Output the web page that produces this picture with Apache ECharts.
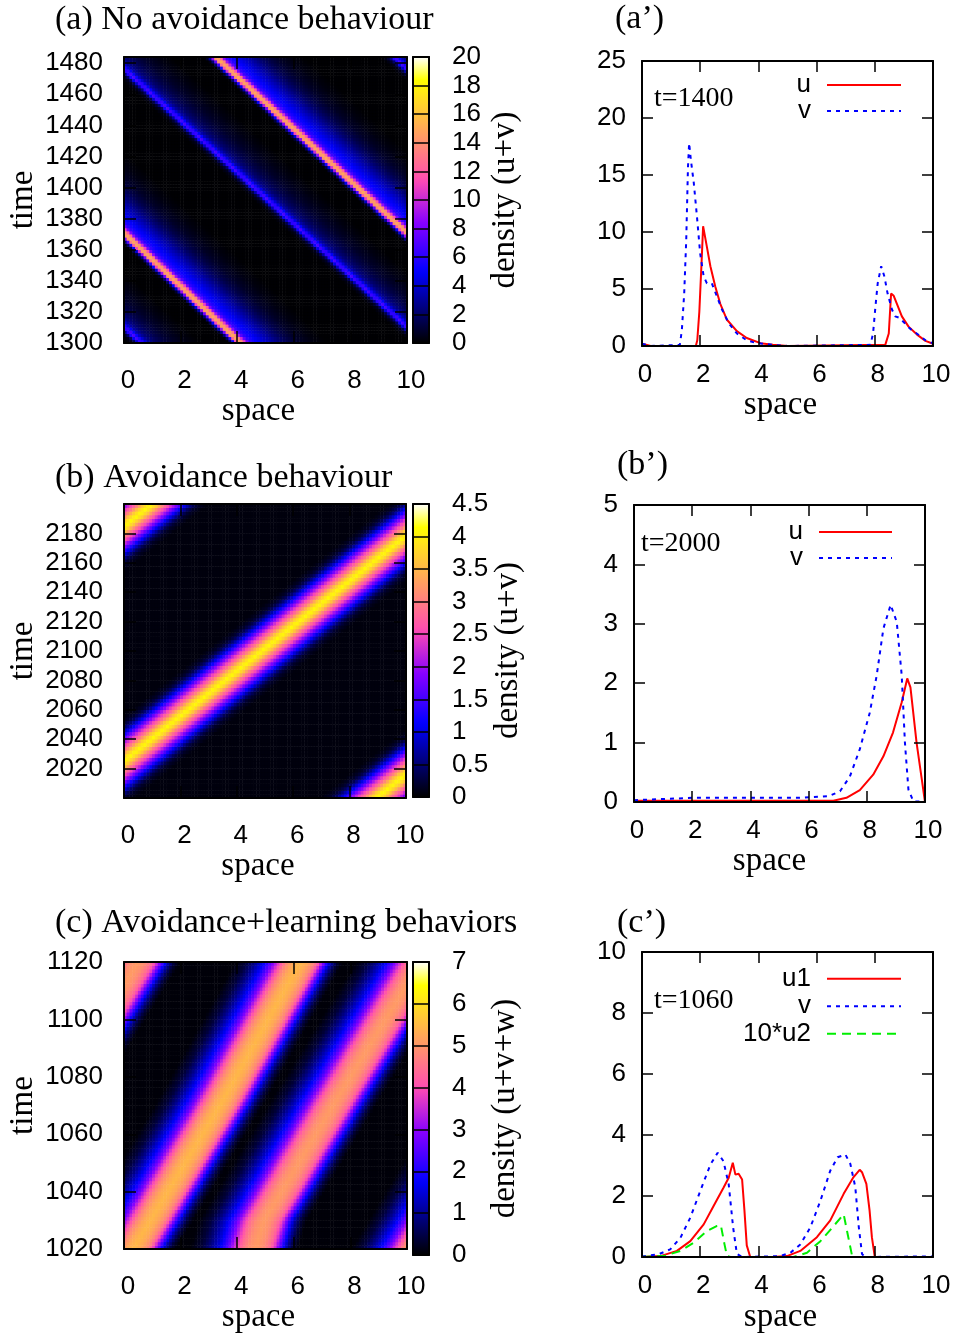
<!DOCTYPE html>
<html><head><meta charset="utf-8"><title>Traveling waves</title>
<script src="https://cdn.jsdelivr.net/npm/echarts@6.0.0/dist/echarts.min.js"></script>
<style>html,body{margin:0;padding:0;background:#fff;}#chart{width:958px;height:1335px;}</style>
</head><body><div id="chart"></div>
<script>
// ================= DATA =================
const SPACE_CELLS = 100;                 // heatmap cells along space 0..10
const spaceTicks = [0, 2, 4, 6, 8, 10];

// ---- (a) No avoidance: heatmap of u+v ----
const aTimeRange = [1300, 1484];
const aTimeTicks = [1300, 1320, 1340, 1360, 1380, 1400, 1420, 1440, 1460, 1480];
const aRowStep = 2;
const aBase = 0.05;
const aStrongTrack = [[1300, 4.08], [1370, 0.0], [1484, -6.8]];   // [time, space] of bright front
const aWeakTrack = [[1300, 10.58], [1484, -0.5]];
const aStrongOffsets = [-0.35, -0.22, -0.12, -0.03, 0.07, 0.17, 0.27, 0.4, 0.6, 0.9, 1.2, 1.5, 1.8, 2.2, 2.7, 3.2];
const aStrongValues  = [0, 2.5, 8, 14, 15, 13.5, 9, 6.3, 5.2, 4.2, 3.2, 2.2, 1.4, 0.7, 0.25, 0];
const aWeakOffsets = [-0.45, -0.25, -0.12, -0.03, 0.07, 0.17, 0.3, 0.5, 0.8, 1.2, 1.7, 2.2];
const aWeakValues  = [0, 0.5, 2.2, 5.5, 6.8, 5.2, 3.3, 2.2, 1.4, 0.75, 0.3, 0];
const aColorTicks = [0, 2, 4, 6, 8, 10, 12, 14, 16, 18, 20];

// ---- (a') t=1400 profiles ----
const apUx = [0, 0.3, 1.85, 1.9, 1.97, 2.05, 2.1, 2.23, 2.35, 2.52, 2.69, 2.92, 3.26, 3.6, 4.07, 4.5, 5.0, 8.36, 8.48, 8.56, 8.65, 8.76, 8.93, 9.16, 9.45, 9.74, 10];
const apUy = [0.2, 0, 0, 0.5, 3.0, 7.5, 10.5, 8.7, 7.0, 5.2, 3.7, 2.3, 1.3, 0.7, 0.25, 0.1, 0, 0.1, 1.1, 4.6, 4.4, 3.7, 2.6, 1.7, 1.0, 0.45, 0.2];
const apVx = [0, 0.3, 1.3, 1.37, 1.45, 1.52, 1.58, 1.62, 1.68, 1.78, 1.89, 2.0, 2.12, 2.23, 2.4, 2.58, 2.75, 2.98, 3.26, 3.6, 3.95, 4.5, 5.0, 7.85, 7.94, 8.02, 8.1, 8.22, 8.33, 8.44, 8.59, 8.7, 8.82, 8.99, 9.22, 9.51, 9.74, 10];
const apVy = [0.2, 0, 0.1, 1.4, 4.6, 9.3, 15.7, 17.8, 16.3, 14.3, 11.3, 8.1, 6.1, 5.5, 5.5, 4.3, 3.2, 2.0, 1.1, 0.5, 0.25, 0.1, 0, 0.1, 1.1, 3.4, 5.5, 7.0, 6.1, 4.6, 3.2, 2.6, 2.5, 2.1, 1.5, 0.96, 0.5, 0.23];
const apYTicks = [0, 5, 10, 15, 20, 25];

// ---- (b) Avoidance: heatmap of u+v ----
const bTimeRange = [2000, 2200];
const bTimeTicks = [2020, 2040, 2060, 2080, 2100, 2120, 2140, 2160, 2180];
const bRowStep = 2.5;
const bBase = 0.06;
const bTrackLower = [[2000, 8.95], [2060, 12.87]];
const bTrackMain  = [[2000, -1.64], [2200, 11.41]];
const bTrackUpper = [[2140, -2.92], [2200, 0.99]];
const bOffsets = [-2.0, -1.7, -1.5, -1.25, -1.0, -0.75, -0.5, -0.25, 0, 0.25, 0.5, 0.75, 1.0, 1.25, 1.5, 1.7, 2.0];
const bValues  = [0, 0.12, 0.35, 0.9, 1.6, 2.25, 2.85, 3.6, 4.05, 3.6, 2.85, 2.25, 1.6, 0.9, 0.35, 0.12, 0];
const bColorTicks = [0, 0.5, 1, 1.5, 2, 2.5, 3, 3.5, 4, 4.5];

// ---- (b') t=2000 profiles ----
const bpUx = [0, 6.0, 6.85, 7.3, 7.76, 8.22, 8.57, 8.9, 9.2, 9.39, 9.5, 9.71, 9.89, 10];
const bpUy = [0.02, 0.02, 0.02, 0.07, 0.2, 0.46, 0.77, 1.17, 1.68, 2.08, 1.93, 1.0, 0.38, 0];
const bpVx = [0, 1.0, 2.0, 5.7, 6.7, 7.08, 7.42, 7.76, 8.1, 8.34, 8.57, 8.82, 9.03, 9.2, 9.31, 9.43, 9.6, 10];
const bpVy = [0.03, 0.05, 0.07, 0.07, 0.1, 0.18, 0.43, 0.89, 1.5, 2.13, 2.92, 3.32, 3.03, 2.13, 1.0, 0.21, 0.01, 0.01];
const bpYTicks = [0, 1, 2, 3, 4, 5];

// ---- (c) Avoidance+learning: heatmap of u+v+w ----
const cTimeRange = [1020, 1120];
const cTimeTicks = [1020, 1040, 1060, 1080, 1100, 1120];
const cRowStep = 1.25;
const cBase = 0.06;
const cTrackA = [[1020, 0.33], [1071, 3.45], [1120, 6.24]];
const cTrackB = [[1020, 4.65], [1030, 4.95], [1037, 5.39], [1071, 7.45], [1098.6, 9.16], [1120, 10.5]];
const cAmpA = 1.0, cAmpB = 0.93;
const cOffsets = [-2.3, -1.9, -1.6, -1.3, -1.0, -0.75, -0.5, -0.25, 0, 0.25, 0.5, 0.65, 0.8, 0.95, 1.1, 1.3, 1.5];
const cValues  = [0, 0.35, 0.9, 1.6, 2.6, 3.7, 4.7, 5.2, 5.4, 5.2, 4.7, 4.0, 3.0, 2.0, 1.1, 0.35, 0];
const cColorTicks = [0, 1, 2, 3, 4, 5, 6, 7];

// ---- (c') t=1060 profiles ----
const cpU1x = [0, 0.63, 1.2, 1.66, 2.12, 2.46, 2.8, 2.98, 3.12, 3.21, 3.32, 3.44, 3.52, 3.6, 3.72, 4.52, 4.98, 5.44, 6.01, 6.47, 6.93, 7.27, 7.48, 7.56, 7.71, 7.82, 7.9, 8.0, 10];
const cpU1y = [0, 0.03, 0.2, 0.52, 1.07, 1.67, 2.27, 2.6, 3.09, 2.7, 2.73, 2.54, 1.53, 0.38, 0, 0, 0.03, 0.2, 0.65, 1.2, 2.07, 2.62, 2.86, 2.78, 2.4, 1.53, 0.65, 0, 0];
const cpVx = [0, 0.57, 0.97, 1.32, 1.66, 2.0, 2.35, 2.6, 2.8, 2.98, 3.13, 3.26, 3.44, 4.75, 5.1, 5.44, 5.78, 6.13, 6.47, 6.72, 6.99, 7.16, 7.33, 7.45, 7.56, 7.67, 10];
const cpVy = [0.02, 0.09, 0.25, 0.63, 1.29, 2.16, 3.03, 3.42, 3.14, 2.38, 0.98, 0.1, 0, 0.03, 0.14, 0.41, 0.96, 1.84, 2.83, 3.27, 3.36, 3.05, 2.29, 0.98, 0.1, 0, 0.02];
const cpWx = [0, 0.74, 1.32, 1.78, 2.23, 2.58, 2.71, 2.83, 2.92, 3.04, 5.2, 5.67, 6.13, 6.59, 6.93, 7.07, 7.22, 7.33, 10];
const cpWy = [0, 0.03, 0.2, 0.47, 0.85, 1.02, 1.04, 0.44, 0.03, 0, 0, 0.14, 0.52, 1.02, 1.4, 0.74, 0.03, 0, 0];
const cpYTicks = [0, 2, 4, 6, 8, 10];

// ================= helpers =================
const SANS = 'Liberation Sans', SERIF = 'Liberation Serif';
// gnuplot palette rgbformulae 30,31,32
function pal(x) {
  const c = v => Math.max(0, Math.min(1, v));
  const r = c(x / 0.32 - 0.78125), g = c(2 * x - 0.84);
  let b = x < 0.25 ? 4 * x : x < 0.42 ? 1 : x < 0.92 ? -2 * x + 1.84 : x / 0.08 - 11.5;
  b = c(b);
  const h = v => Math.round(v * 255);
  return 'rgb(' + h(r) + ',' + h(g) + ',' + h(b) + ')';
}
const STOPS = [];
for (let i = 0; i <= 50; i++) STOPS.push(pal(i / 50));

function trackAt(track, t) {
  let i = 0;
  while (i < track.length - 2 && t > track[i + 1][0]) i++;
  const [t0, x0] = track[i], [t1, x1] = track[i + 1];
  return x0 + (x1 - x0) * (t - t0) / (t1 - t0);
}
function profileAt(offs, vals, d) {
  if (d <= offs[0] || d >= offs[offs.length - 1]) return 0;
  let i = 0;
  while (d > offs[i + 1]) i++;
  return vals[i] + (vals[i + 1] - vals[i]) * (d - offs[i]) / (offs[i + 1] - offs[i]);
}
function buildField(tRange, rowStep, base, bands, wrap) {
  const xs = [], ts = [], data = [];
  for (let i = 0; i < SPACE_CELLS; i++) xs.push(((i + 0.5) * 10 / SPACE_CELLS).toFixed(2));
  const nRows = Math.round((tRange[1] - tRange[0]) / rowStep);
  const shifts = wrap ? [-10, 0, 10] : [0];
  for (let j = 0; j < nRows; j++) {
    const t = tRange[0] + (j + 0.5) * rowStep;
    ts.push(t.toFixed(2));
    for (let i = 0; i < SPACE_CELLS; i++) {
      const x = (i + 0.5) * 10 / SPACE_CELLS;
      let v = base;
      bands.forEach(b => {
        const p = trackAt(b.track, t);
        shifts.forEach(s => { v += b.amp * profileAt(b.offs, b.vals, x - p - s); });
      });
      data.push([i, j, +v.toFixed(3)]);
    }
  }
  return { xs, ts, data };
}

const option = { animation: false, backgroundColor: '#fff', title: [], grid: [], xAxis: [], yAxis: [], visualMap: [], legend: [], series: [] };

function frameAxis(extra) {
  return Object.assign({
    type: 'value', z: 10, splitLine: { show: false },
    axisLine: { show: true, onZero: false, lineStyle: { color: '#000', width: 2 } },
    axisTick: { show: true, inside: true, length: 12, lineStyle: { color: '#000', width: 1.5 } },
    axisLabel: { show: false }
  }, extra);
}
function tickLabel(margin, pad, extra) {
  return Object.assign({ show: true, margin: margin, color: '#000', fontFamily: SANS, fontSize: 26, padding: pad || 0,
    formatter: v => String(v) }, extra || {});
}
function axisName(text, gap, rot, shift) {
  const o = { name: text, nameLocation: 'middle', nameGap: gap,
    nameTextStyle: { fontFamily: SERIF, fontSize: 33, color: '#000', padding: shift ? [0, shift, 0, 0] : 0 } };
  if (rot) o.nameRotate = rot;
  return o;
}
function addTitle(text, left, top, size) {
  option.title.push({ text: text, left: left, top: top, padding: 0, textStyle: { fontFamily: SERIF, fontSize: size, fontWeight: 'normal', color: '#000' } });
}

function addHeat(c) {
  const gi = option.grid.length;
  option.grid.push({ left: c.box[0], top: c.box[1], width: c.box[2], height: c.box[3] });
  const f = buildField(c.tRange, c.rowStep, c.base, c.bands, c.wrap);
  const xc = option.xAxis.length;
  option.xAxis.push({ type: 'category', gridIndex: gi, data: f.xs, show: false });
  const yc = option.yAxis.length;
  option.yAxis.push({ type: 'category', gridIndex: gi, data: f.ts, show: false });
  const tInt = c.tTicks[1] - c.tTicks[0];
  const xInt = spaceTicks[1] - spaceTicks[0];
  option.xAxis.push(frameAxis(Object.assign({ gridIndex: gi, position: 'bottom', min: spaceTicks[0], max: spaceTicks[spaceTicks.length - 1], interval: xInt, axisLabel: tickLabel(25, [0, 0, 0, 8]) }, axisName('space', c.xGap, 0, 14))));
  option.xAxis.push(frameAxis({ gridIndex: gi, position: 'top', min: 0, max: 10, interval: xInt }));
  option.yAxis.push(frameAxis(Object.assign({ gridIndex: gi, position: 'left', min: c.tRange[0], max: c.tRange[1], interval: tInt,
    axisLabel: tickLabel(21, 0, { showMinLabel: c.tTicks[0] === c.tRange[0], showMaxLabel: c.tTicks[c.tTicks.length - 1] === c.tRange[1] }) }, axisName('time', 84, 90))));
  option.yAxis.push(frameAxis({ gridIndex: gi, position: 'right', min: c.tRange[0], max: c.tRange[1], interval: tInt }));
  const si = option.series.length;
  option.series.push({ type: 'heatmap', xAxisIndex: xc, yAxisIndex: yc, data: f.data, progressive: 0, silent: true, emphasis: { disabled: true }, itemStyle: { borderWidth: 0 } });
  // colour box
  const cb = c.cb, cbMax = c.cTicks[c.cTicks.length - 1], cbInt = c.cTicks[1] - c.cTicks[0];
  const cgi = option.grid.length;
  option.grid.push({ left: cb[0], top: cb[1], width: cb[2], height: cb[3] });
  option.xAxis.push(frameAxis({ gridIndex: cgi, position: 'bottom', min: 0, max: 1, axisTick: { show: false } }));
  option.xAxis.push(frameAxis({ gridIndex: cgi, position: 'top', min: 0, max: 1, axisTick: { show: false } }));
  option.yAxis.push(frameAxis({ gridIndex: cgi, position: 'left', min: 0, max: cbMax, interval: cbInt, axisTick: { show: false } }));
  option.yAxis.push(frameAxis(Object.assign({ gridIndex: cgi, position: 'right', min: 0, max: cbMax, interval: cbInt,
    axisTick: { show: true, inside: true, length: cb[2], lineStyle: { color: '#000', width: 1.5 } },
    axisLabel: tickLabel(23) }, axisName(c.cbName, 60, 90))));
  option.visualMap.push({ type: 'continuous', seriesIndex: si, min: 0, max: cbMax, left: cb[0], top: cb[1], itemWidth: cb[2], itemHeight: cb[3],
    padding: 0, calculable: false, hoverLink: false, realtime: false, inRange: { color: STOPS }, z: 4 });
}

function addLine(c) {
  const gi = option.grid.length;
  option.grid.push({ left: c.box[0], top: c.box[1], width: c.box[2], height: c.box[3] });
  const xb = option.xAxis.length;
  const tk = { show: true, inside: true, length: 11, lineStyle: { color: '#000', width: 1.5 } };
  const yMax = c.yTicks[c.yTicks.length - 1], yInt = c.yTicks[1] - c.yTicks[0];
  option.xAxis.push(frameAxis(Object.assign({ gridIndex: gi, position: 'bottom', min: 0, max: 10, interval: 2, axisTick: tk, axisLabel: tickLabel(16, [0, 0, 0, 6]) }, axisName('space', c.xGap, 0, c.nameShift))));
  option.xAxis.push(frameAxis({ gridIndex: gi, position: 'top', min: 0, max: 10, interval: 2, axisTick: tk }));
  const yl = option.yAxis.length;
  option.yAxis.push(frameAxis({ gridIndex: gi, position: 'left', min: 0, max: yMax, interval: yInt, axisTick: tk, axisLabel: tickLabel(16) }));
  option.yAxis.push(frameAxis({ gridIndex: gi, position: 'right', min: 0, max: yMax, interval: yInt, axisTick: tk }));
  c.series.forEach(s => {
    option.series.push({ type: 'line', name: s.name, xAxisIndex: xb, yAxisIndex: yl, data: s.x.map((v, i) => [v, s.y[i]]),
      showSymbol: false, symbol: 'none', silent: true, z: 3,
      lineStyle: { color: s.color, width: 2, type: s.dash }, itemStyle: { color: s.color } });
  });
  option.legend.push({ show: true, data: c.series.map(s => s.name), orient: 'vertical', align: 'right', right: c.legend[0], top: c.legend[1],
    itemWidth: c.legend[2], itemHeight: 14, itemGap: c.legend[3], padding: 0, selectedMode: false,
    itemStyle: { opacity: 0, borderWidth: 0 },
    textStyle: { fontFamily: SANS, fontSize: 26, color: '#000', lineHeight: c.legend[4], padding: [0, 11, 0, 0] } });
}

const DOT = [4, 5], DASH = [9, 6];

// ---- panel (a) ----
addHeat({ box: [124, 57, 283, 286], cb: [413, 57, 16, 286], tRange: aTimeRange, tTicks: aTimeTicks, rowStep: aRowStep, base: aBase, wrap: true,
  bands: [{ track: aStrongTrack, offs: aStrongOffsets, vals: aStrongValues, amp: 1 }, { track: aWeakTrack, offs: aWeakOffsets, vals: aWeakValues, amp: 1 }],
  cTicks: aColorTicks, cbName: 'density (u+v)', xGap: 35 });
addLine({ box: [642, 61, 291, 285], yTicks: apYTicks, xGap: 39, nameShift: 14, legend: [56, 72, 74, 0, 26],
  series: [{ name: 'u', x: apUx, y: apUy, color: '#ff0000', dash: 'solid' }, { name: 'v', x: apVx, y: apVy, color: '#0000ff', dash: DOT }] });

// ---- panel (b) ----
addHeat({ box: [124, 504, 282, 294], cb: [413, 504, 16, 293], tRange: bTimeRange, tTicks: bTimeTicks, rowStep: bRowStep, base: bBase, wrap: false,
  bands: [{ track: bTrackLower, offs: bOffsets, vals: bValues, amp: 1 }, { track: bTrackMain, offs: bOffsets, vals: bValues, amp: 1 }, { track: bTrackUpper, offs: bOffsets, vals: bValues, amp: 1 }],
  cTicks: bColorTicks, cbName: 'density (u+v)', xGap: 39 });
addLine({ box: [634, 505, 291, 297], yTicks: bpYTicks, xGap: 39, nameShift: 20, legend: [65, 519, 73, 0, 26],
  series: [{ name: 'u', x: bpUx, y: bpUy, color: '#ff0000', dash: 'solid' }, { name: 'v', x: bpVx, y: bpVy, color: '#0000ff', dash: DOT }] });

// ---- panel (c) ----
addHeat({ box: [124, 962, 283, 293], cb: [413, 962, 16, 293], tRange: cTimeRange, tTicks: cTimeTicks, rowStep: cRowStep, base: cBase, wrap: true,
  bands: [{ track: cTrackA, offs: cOffsets, vals: cValues, amp: cAmpA }, { track: cTrackB, offs: cOffsets, vals: cValues, amp: cAmpB }],
  cTicks: cColorTicks, cbName: 'density (u+v+w)', xGap: 40 });
addLine({ box: [642, 952, 291, 306], yTicks: cpYTicks, xGap: 44, nameShift: 14, legend: [56, 965, 74, 0, 27.5],
  series: [{ name: 'u1', x: cpU1x, y: cpU1y, color: '#ff0000', dash: 'solid' }, { name: 'v', x: cpVx, y: cpVy, color: '#0000ff', dash: DOT },
    { name: '10*u2', x: cpWx, y: cpWy, color: '#00ee00', dash: DASH }] });

// ---- titles and annotations ----
addTitle('(a) No avoidance behaviour', 55, 3, 34);
addTitle('(a\u2019)', 615, 2, 34);
addTitle('(b) Avoidance behaviour', 55, 461, 34);
addTitle('(b\u2019)', 617, 448, 34);
addTitle('(c) Avoidance+learning behaviors', 55, 906, 34);
addTitle('(c\u2019)', 617, 906, 34);
addTitle('t=1400', 654, 85, 28);
addTitle('t=2000', 641, 530, 28);
addTitle('t=1060', 654, 987, 28);

const chart = echarts.init(document.getElementById('chart'), null, { renderer: 'canvas' });
chart.setOption(option);
</script>
</body></html>
